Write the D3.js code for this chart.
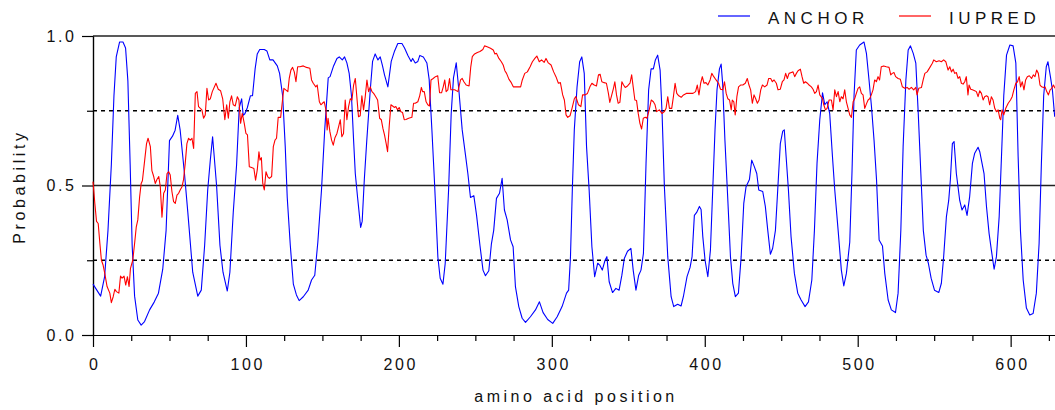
<!DOCTYPE html>
<html>
<head>
<meta charset="utf-8">
<script src="https://cdn.jsdelivr.net/npm/d3@7"></script>
<style>
  body { margin: 0; background: #fff; }
  svg text { font-family: "Liberation Sans", Arial, sans-serif; fill: #111; }
</style>
</head>
<body>
<div id="vis"></div>
<script>
// [residue position, probability]
var anchorPoints = [
  [0,.17],[5,.13],[7.6,.195],[9.8,.35],[12,.57],[13.7,.80],[15.2,.93],[17.4,.98],[19.6,.98],[21.3,.96],
  [22.8,.85],[24.3,.57],[25.6,.30],[27.2,.13],[29.3,.05],[31.5,.033],[33.7,.045],[37,.084],[40,.11],[42.8,.14],
  [45.6,.22],[47.8,.35],[50,.65],[52,.665],[53.7,.685],[55.4,.735],[57,.685],[59.8,.54],[62,.41],[65.2,.21],
  [68.5,.13],[70.8,.15],[73,.30],[75,.485],[76.7,.585],[78.2,.663],[80.8,.50],[83,.30],[85,.21],[87.8,.147],
  [89.5,.21],[91.7,.41],[93.9,.57],[95.6,.76],[97.2,.79],[98.2,.735],[99.3,.74],[100.9,.76],[102.9,.80],[104.3,.80],
  [106,.89],[107.4,.94],[109,.955],[112,.955],[113.7,.95],[115.6,.92],[117.7,.92],[120.5,.90],[122,.875],[124,.80],
  [125.7,.63],[127,.46],[129,.30],[131,.17],[133,.134],[134.8,.115],[137.5,.128],[140.7,.15],[142.9,.184],[145,.20],
  [147,.31],[149.4,.485],[151.5,.686],[153.8,.86],[155,.864],[157.3,.90],[159.5,.925],[161,.93],[163,.92],[164.5,.93],
  [166,.91],[167.5,.875],[169,.80],[170.4,.65],[171.5,.54],[173,.46],[175,.36],[176,.38],[177.4,.52],[179,.65],
  [181.3,.82],[182.8,.915],[184.5,.94],[186.3,.92],[187.8,.93],[189.3,.90],[190.6,.87],[192.8,.83],[195,.915],[197.2,.95],
  [199.3,.975],[202,.975],[203.7,.96],[205.9,.935],[208,.915],[209,.925],[210.7,.91],[212.4,.915],[213.7,.935],[216,.93],
  [218.3,.91],[219.8,.855],[221.6,.685],[223.3,.51],[225.5,.26],[227,.19],[228.8,.17],[230.3,.24],[232.5,.485],[234.2,.74],
  [235.7,.86],[237.5,.91],[239.2,.82],[241.4,.686],[243.6,.60],[245.1,.54],[246.8,.46],[249,.466],[250.8,.40],[253,.30],
  [255,.217],[256.6,.198],[258.8,.215],[260.5,.305],[262,.35],[263.8,.457],[265.8,.474],[267.5,.524],[269,.418],[270.8,.385],
  [273,.318],[274.7,.295],[276.2,.162],[278.4,.095],[280.6,.056],[282.8,.042],[286,.061],[289.3,.084],[291.9,.111],[294.3,.075],
  [297.3,.052],[300.6,.039],[303.5,.061],[306.7,.095],[309.6,.14],[311,.15],[312.2,.262],[313.4,.485],[314.7,.686],[316.5,.83],
  [318.2,.914],[319.6,.93],[321.2,.875],[322.7,.63],[324.4,.485],[326.2,.295],[328,.195],[330,.24],[331.3,.234],[333,.217],
  [334.8,.25],[336,.262],[337.5,.178],[339.7,.142],[341.9,.156],[344,.15],[345.8,.20],[347.4,.256],[349.5,.28],[351.7,.29],
  [353.2,.217],[355,.15],[356.8,.20],[358.3,.217],[359.9,.273],[361.6,.574],[363.3,.82],[364.9,.89],[366.4,.89],[367.7,.92],
  [369.2,.936],[370.8,.886],[372.1,.74],[373.6,.496],[375.8,.262],[378,.128],[379.7,.095],[382.3,.103],[384.5,.097],[386,.128],
  [388.4,.195],[390.4,.226],[391.7,.262],[393.2,.40],[394.7,.41],[396.5,.43],[397.6,.42],[398.7,.33],[400.2,.25],[402,.195],
  [403.7,.284],[405.2,.485],[406.7,.686],[408,.82],[409.6,.89],[410.7,.906],[411.7,.84],[413.2,.65],[415,.46],[416.8,.262],
  [418.3,.173],[420,.128],[422,.14],[423.8,.262],[425.5,.44],[427,.496],[429.2,.52],[430.7,.585],[432.4,.563],[434,.54],
  [435.3,.485],[437.9,.48],[439.6,.43],[441.2,.35],[442.9,.27],[444.4,.29],[446.2,.35],[447.7,.485],[449.4,.64],[451,.682],
  [452,.686],[453.2,.596],[454.7,.485],[456.4,.33],[458.6,.206],[460.8,.14],[463,.117],[465.6,.095],[467.8,.111],[470,.184],
  [471.7,.35],[473.4,.574],[475.2,.72],[477,.81],[478.5,.77],[480,.78],[481.7,.74],[483.5,.596],[485,.485],[487.2,.35],
  [489.3,.217],[490.9,.164],[492.6,.206],[494.8,.31],[496.3,.55],[497.6,.80],[499.1,.953],[501.3,.97],[504.1,.98],[505.7,.942],
  [507.4,.853],[509,.764],[510.7,.65],[512.3,.52],[514,.318],[516.2,.298],[517.7,.206],[519.9,.117],[522,.084],[524.7,.075],
  [526.4,.14],[528.2,.35],[529.7,.63],[531.5,.853],[533,.953],[534.5,.967],[536.3,.942],[538,.909],[539.6,.74],[541.2,.55],
  [542.9,.35],[544.7,.267],[546.2,.24],[548,.19],[550.2,.15],[553,.142],[554.7,.173],[556.2,.262],[558,.396],[559.5,.45],
  [560.6,.52],[561.9,.64],[563,.647],[564.5,.54],[566.7,.45],[568.2,.418],[570,.435],[571.5,.40],[573.2,.463],[575,.574],
  [576.5,.608],[578.7,.628],[579.8,.613],[581.3,.574],[582.6,.54],[584.2,.43],[585.9,.34],[587.4,.284],[589.2,.22],[590.7,.262],
  [592.5,.396],[594,.596],[595.5,.80],[597.3,.936],[599.5,.97],[601.6,.967],[603.4,.909],[604.9,.596],[606.4,.35],[608.2,.184],
  [610.3,.09],[612.5,.067],[614.7,.072],[616.8,.14],[618.6,.306],[620.1,.574],[621.6,.80],[623.3,.897],[624.4,.914],[626,.864],
  [627.3,.82],[628.8,.73]
];

var iupredPoints = [
  [0,.513],[1.2,.44],[2.3,.38],[3.4,.373],[4.5,.306],[5.5,.25],[6.6,.234],[7.7,.206],[9.2,.162],[11,.14],
  [12,.108],[13.2,.128],[14.3,.153],[15.3,.145],[16.9,.14],[18,.197],[19,.19],[20.3,.197],[21.4,.167],[22.5,.195],
  [23.6,.162],[24.5,.223],[26,.25],[27.2,.306],[28.3,.362],[29.3,.385],[30.5,.463],[31.5,.507],[32.3,.516],[33.8,.585],
  [35,.64],[36,.658],[37.5,.63],[38.5,.55],[39.7,.53],[40.7,.507],[41.8,.52],[43,.53],[44,.496],[45.1,.394],
  [46.2,.474],[47.3,.485],[48.4,.54],[49.5,.546],[50.5,.535],[51.6,.48],[52.7,.446],[53.8,.44],[54.9,.468],[56,.474],
  [57,.485],[58.2,.496],[59.2,.52],[60.3,.574],[61.4,.64],[62.5,.658],[63.6,.652],[64.7,.658],[65.8,.624],[66.9,.808],
  [68,.814],[69,.764],[70.2,.758],[71.2,.753],[72.3,.725],[73.4,.736],[74.5,.825],[75.6,.786],[76.7,.79],[78,.814],
  [80.4,.842],[81.9,.822],[83.4,.817],[84.8,.79],[86.2,.72],[87.4,.77],[88.5,.725],[89.5,.78],[90.6,.80],[91.7,.77],
  [93,.766],[94.4,.797],[95.4,.786],[96.5,.708],[97.6,.741],[98.9,.708],[100,.674],[101,.669],[102.2,.563],[103.7,.56],
  [105.2,.557],[106.3,.518],[107.4,.552],[108.5,.613],[109.2,.585],[110.1,.593],[111,.507],[112,.485],[113.1,.546],[114.2,.53],
  [115.3,.524],[116.8,.53],[117.9,.63],[119,.652],[120,.658],[121.1,.728],[122.7,.728],[124,.79],[124.8,.825],[126,.82],
  [127.4,.814],[128.3,.858],[129.4,.886],[130.5,.895],[131.6,.88],[132.7,.847],[133.8,.897],[135.3,.897],[137.5,.90],[139.6,.895],
  [141.8,.892],[142.9,.853],[144,.842],[145.7,.83],[146.6,.836],[148,.78],[149,.77],[150,.775],[151.2,.78],[152.3,.753],
  [153.1,.686],[153.7,.725],[154.9,.68],[156,.652],[157.1,.635],[158.2,.66],[159.5,.674],[160.6,.697],[161.7,.72],[162.7,.663],
  [163.8,.674],[164.9,.786],[166,.72],[167.1,.764],[168.2,.79],[169.3,.786],[170.4,.836],[171.5,.858],[172.5,.797],[173.6,.73],
  [174.7,.733],[175.8,.80],[176.9,.753],[178,.797],[179.1,.853],[180.2,.814],[181.3,.83],[182.4,.814],[183.5,.808],[184.5,.80],
  [186.1,.786],[187.4,.725],[188.5,.72],[189.6,.69],[190.6,.669],[191.7,.64],[192.6,.613],[193.7,.70],[194.8,.77],[195.9,.766],
  [197,.761],[198,.764],[199.1,.753],[200.2,.761],[201.3,.747],[202.4,.744],[203.5,.72],[204.6,.721],[206.4,.725],[208.5,.728],
  [209.6,.775],[210.7,.775],[212.4,.78],[213.6,.80],[214.7,.828],[215.5,.814],[216.6,.814],[217.8,.78],[218.9,.77],[220,.766],
  [221,.853],[222.4,.858],[223.9,.864],[225.4,.867],[226.6,.81],[227.9,.81],[229,.83],[230,.853],[230.9,.814],[232,.82],
  [233.1,.858],[234,.82],[235.3,.82],[236.5,.82],[238.6,.814],[240.3,.853],[241.4,.858],[242.5,.847],[244,.836],[245.9,.833],
  [247,.897],[248,.931],[249.5,.94],[251.3,.945],[253,.948],[254.9,.955],[256,.967],[257.7,.964],[259.9,.959],[261.7,.953],
  [262.8,.94],[263.8,.942],[265.4,.925],[267,.914],[268.2,.903],[269.3,.884],[270.4,.875],[272,.855],[273.5,.844],[274.8,.83],
  [277.5,.83],[279.6,.83],[280.7,.853],[282.3,.875],[284,.88],[285.8,.897],[287.3,.914],[288.9,.925],[290.2,.933],[291.8,.914],
  [293.3,.92],[295,.912],[296.2,.925],[297.7,.91],[299.5,.903],[301.2,.88],[302.7,.864],[304.3,.842],[305.6,.844],[307.1,.803],
  [308.2,.786],[309.3,.736],[310.4,.728],[311.9,.733],[313.2,.758],[314.7,.79],[315.7,.797],[317.4,.77],[319,.764],[320.1,.803],
  [321.6,.803],[323.3,.808],[324.9,.83],[326.2,.842],[327.7,.836],[329.2,.833],[330.5,.87],[331.6,.872],[332.7,.847],[334.2,.844],
  [335.7,.842],[337,.808],[337.9,.778],[339.2,.803],[340.3,.825],[341.2,.847],[342.3,.803],[343.4,.775],[344.5,.778],[345.8,.847],
  [346.9,.836],[348,.828],[349.5,.833],[351.1,.842],[352.2,.87],[353.2,.83],[354.3,.786],[355.4,.784],[356.5,.741],[357.6,.708],
  [358.7,.689],[359.8,.725],[361.1,.728],[362.2,.725],[363.7,.753],[365,.786],[366.4,.78],[367.5,.77],[368.5,.747],[370.3,.753],
  [372,.741],[373.6,.747],[374.7,.758],[375.8,.797],[376.9,.758],[378.4,.758],[379.5,.797],[380.6,.842],[381.7,.808],[383,.80],
  [384.6,.795],[386.1,.803],[387.9,.808],[390.1,.808],[392.3,.808],[394,.814],[395.1,.836],[396.2,.803],[397.3,.842],[398.4,.864],
  [399.5,.842],[400.8,.844],[402,.836],[403.5,.853],[404.6,.875],[405.9,.864],[407.4,.853],[409,.842],[410.3,.822],[411.8,.82],
  [412.9,.847],[414,.808],[415.1,.79],[416.2,.786],[417.3,.753],[418,.786],[419,.78],[419.9,.736],[421,.797],[422.1,.83],
  [423.4,.836],[424.9,.836],[426.5,.842],[427.8,.858],[428.9,.836],[430,.82],[431.1,.775],[432.2,.803],[433.3,.79],[434.4,.775],
  [435.5,.786],[436.6,.82],[437.7,.836],[439.2,.83],[440.7,.836],[441.8,.858],[443.1,.858],[444.2,.847],[445.3,.853],[446.8,.842],
  [447.9,.82],[449.4,.822],[450.7,.847],[451.8,.853],[452.9,.875],[454,.858],[455.1,.875],[456.6,.878],[457.7,.88],[458.8,.864],
  [459.9,.875],[461,.884],[462.5,.889],[463.6,.864],[464.7,.842],[465.8,.847],[467.1,.842],[468.2,.836],[469.7,.83],[470.8,.822],
  [471.9,.808],[473,.814],[474.1,.836],[475.2,.803],[477,.79],[477.8,.77],[478.9,.753],[480,.758],[481.3,.786],[482.8,.786],
  [483.9,.753],[485,.82],[486.1,.797],[487.2,.814],[488.3,.78],[489.3,.797],[490.4,.79],[491.5,.82],[492.6,.78],[493.7,.758],
  [494.8,.736],[495.9,.728],[497,.78],[498,.79],[499.1,.808],[500.2,.825],[501.3,.83],[502.4,.808],[503.5,.803],[504.6,.758],
  [505.7,.773],[506.8,.786],[507.8,.79],[508.9,.803],[510,.82],[511.1,.853],[512.2,.847],[513.3,.864],[514.3,.853],[515.4,.897],
  [517,.90],[518.7,.897],[520.5,.895],[521.6,.87],[522.6,.875],[523.7,.878],[524.8,.864],[526.4,.858],[527.9,.855],[529.2,.83],
  [530.8,.825],[532.3,.828],[533.6,.822],[535.1,.828],[536.6,.82],[538,.828],[538.8,.803],[539.9,.825],[541.7,.828],[542.8,.853],
  [543.9,.875],[545.4,.88],[547.2,.895],[548.8,.909],[549.7,.92],[551.4,.914],[553.2,.917],[554.7,.914],[556.2,.92],[557.6,.914],
  [559.1,.886],[560.2,.897],[561.3,.88],[562.4,.889],[563.4,.875],[564.5,.878],[565.6,.858],[566.7,.864],[567.8,.842],[568.9,.839],
  [570,.847],[571,.864],[572.1,.803],[572.8,.836],[573.9,.822],[575,.82],[576.5,.817],[577.6,.814],[578.7,.797],[579.8,.817],
  [580.9,.808],[582,.786],[583,.797],[584.2,.80],[585.2,.797],[586.3,.77],[587.4,.797],[588.5,.786],[589.6,.758],[590.7,.747],
  [591.8,.753],[592.9,.725],[593.5,.72],[594.4,.753],[595.5,.736],[596.8,.758],[598.4,.775],[599.9,.786],[601,.797],[602.1,.82],
  [603.4,.842],[604.5,.847],[605.6,.864],[606.5,.83],[607.6,.847],[608.7,.82],[609.8,.853],[610.9,.864],[612.2,.867],[613.7,.858],
  [614.8,.87],[615.9,.864],[617,.886],[618.1,.875],[619.2,.836],[620.3,.83],[621.4,.828],[622.5,.83],[623.6,.814],[624.7,.803],
  [625.8,.82],[626.9,.825],[628,.836],[629,.825]
];

var xMajorTicks = [0, 100, 200, 300, 400, 500, 600];
var xMinorTicks = [25, 50, 75, 125, 150, 175, 225, 250, 275, 325, 350, 375, 425, 450, 475, 525, 550, 575, 625];
var yMajorTicks = [0, 0.5, 1];
var yMinorTicks = [0.25, 0.75];
var solidRefs = [0.5, 1];
var dashedRefs = [0.25, 0.75];
var seriesNames = ["ANCHOR", "IUPRED"];
var seriesColors = ["#0000ff", "#ff0000"];

var width = 1055, height = 410;
var margin = {top: 36, left: 93, right: 0, bottom: 75};

var svg = d3.select('#vis').append('svg')
    .attr('width', width)
    .attr('height', height);

var x = d3.scaleLinear().domain([0, 629]).range([margin.left, width - margin.right]);
var y = d3.scaleLinear().domain([0, 1]).range([height - margin.bottom, margin.top]);

// reference lines
svg.selectAll('.solidref').data(solidRefs).enter().append('line')
    .attr('x1', x(0)).attr('x2', width)
    .attr('y1', function(d){ return y(d); }).attr('y2', function(d){ return y(d); })
    .attr('stroke', '#222').attr('stroke-width', 1.6);

svg.selectAll('.dashref').data(dashedRefs).enter().append('line')
    .attr('x1', x(0)).attr('x2', width)
    .attr('y1', function(d){ return y(d); }).attr('y2', function(d){ return y(d); })
    .attr('stroke', '#000').attr('stroke-width', 1.3)
    .attr('stroke-dasharray', '4,4');

// axes
function styleAxis(g) {
  g.selectAll('path, line').attr('stroke', '#000').attr('stroke-width', 1.2);
  g.selectAll('text')
    .style('font-size', '16px')
    .style('letter-spacing', '2.6px')
    .attr('fill', '#111');
}

var xMinor = svg.append('g')
    .attr('transform', 'translate(0,' + y(0) + ')')
    .call(d3.axisBottom(x).tickValues(xMinorTicks).tickSize(6).tickSizeOuter(0).tickFormat(''));
styleAxis(xMinor);

var xMajor = svg.append('g')
    .attr('transform', 'translate(0,' + y(0) + ')')
    .call(d3.axisBottom(x).tickValues(xMajorTicks).tickSize(12).tickSizeOuter(0).tickPadding(12));
styleAxis(xMajor);
xMajor.selectAll('text').attr('dx', '1.3px');

var yMinor = svg.append('g')
    .attr('transform', 'translate(' + x(0) + ',0)')
    .call(d3.axisLeft(y).tickValues(yMinorTicks).tickSize(6).tickSizeOuter(0).tickFormat(''));
styleAxis(yMinor);

var yMajor = svg.append('g')
    .attr('transform', 'translate(' + x(0) + ',0)')
    .call(d3.axisLeft(y).tickValues(yMajorTicks).tickSize(11).tickSizeOuter(0)
      .tickPadding(8).tickFormat(d3.format('.1f')));
styleAxis(yMajor);
yMajor.selectAll('text').attr('dx', '2.6px');

// axis titles
svg.append('text')
    .attr('x', (x(0) + width) / 2 + 2)
    .attr('y', 402)
    .attr('text-anchor', 'middle')
    .style('font-size', '16px')
    .style('letter-spacing', '3.5px')
    .text('amino acid position');

svg.append('text')
    .attr('transform', 'translate(25,' + (y(0.5) + 1) + ') rotate(-90)')
    .attr('text-anchor', 'middle')
    .style('font-size', '16px')
    .style('letter-spacing', '3.6px')
    .text('Probability');

// series
var line = d3.line()
    .x(function(d){ return x(d[0]); })
    .y(function(d){ return y(d[1]); });

var plot = svg.append('g');
[anchorPoints, iupredPoints].forEach(function(pts, i){
  plot.append('path')
    .datum(pts)
    .attr('fill', 'none')
    .attr('stroke', seriesColors[i])
    .attr('stroke-width', 1.1)
    .attr('stroke-linejoin', 'round')
    .attr('d', line);
});

// legend
var legendX = [718, 899];
var legend = svg.selectAll('.legend').data(seriesNames).enter().append('g')
    .attr('transform', function(d, i){ return 'translate(' + legendX[i] + ',16)'; });
legend.append('line')
    .attr('x1', 0).attr('x2', 32)
    .attr('stroke', function(d, i){ return seriesColors[i]; })
    .attr('stroke-width', 1.2);
legend.append('text')
    .attr('x', 50)
    .attr('y', 8)
    .style('font-size', '17px')
    .style('letter-spacing', '4.5px')
    .text(function(d){ return d; });
</script>
</body>
</html>
